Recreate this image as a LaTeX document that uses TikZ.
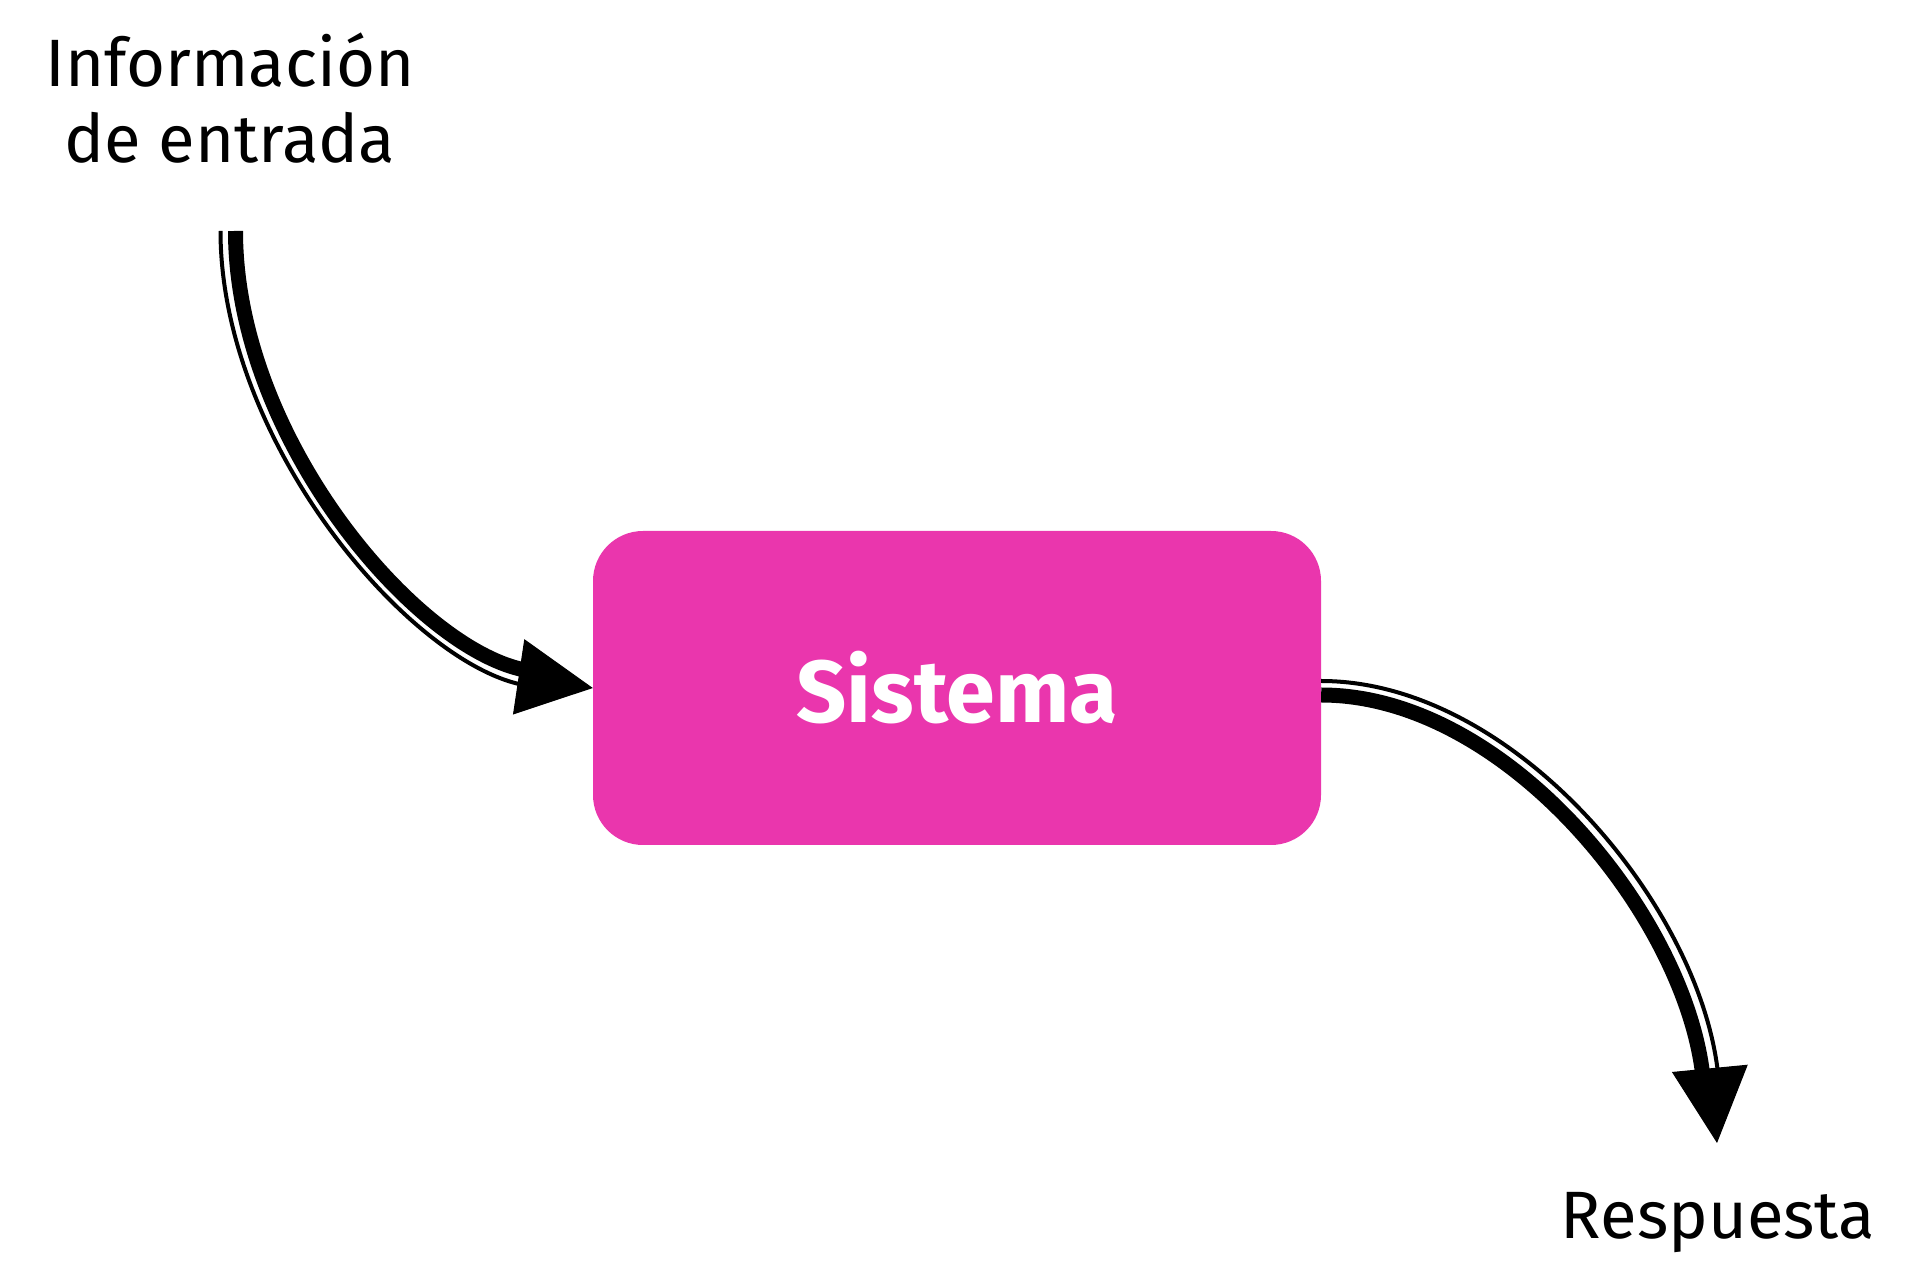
\documentclass[tikz,border=0pt]{standalone}
\usepackage{fontspec}
\setmainfont{Fira Sans}
\usetikzlibrary{arrows.meta}
\definecolor{sistemapink}{RGB}{234,54,173}

\begin{document}
\begin{tikzpicture}[x=1pt, y=1pt,
	flowlabel/.style={inner sep=0pt, font=\fontsize{67}{76}\selectfont, align=center},
	headflow/.style={white, line width=1pt, -{Triangle[length=75pt, width=76pt, black]}},
	thickflow/.style={line width=15pt, shorten >=65pt},
	thinflow/.style={line width=4pt, shorten >=65pt}]
	\useasboundingbox (0,0) rectangle (1908,1280);

	\node [fill=sistemapink, rounded corners=50pt, minimum width=728pt,
		minimum height=314pt, text=white,
		font=\fontsize{88}{100}\selectfont\bfseries] (sistema) at (957,592) {Sistema};

	\node [flowlabel, anchor=north] (info) at (230,1247) {Información\\de entrada};
	\node [flowlabel, anchor=base] (resp) at (1718,42) {Respuesta};

	\coordinate (in) at (228,1049);
	\coordinate (out) at (1717,137);

	% entrada
	\draw[headflow] (in) .. controls +(0,-210) and +(-173,26) .. (sistema.west);
	\draw[thickflow] ([xshift=7.5pt]in) .. controls +(0,-210) and +(-173,26) ..
		([shift={(1,7.5)}]sistema.west);
	\draw[thinflow] ([xshift=-7.5pt]in) .. controls +(0,-214) and +(-177,27) ..
		([shift={(-1,-7.5)}]sistema.west);

	% respuesta
	\draw[headflow] (sistema.east) .. controls +(190,0) and +(-22,229) .. (out);
	\draw[thickflow] ([yshift=-7pt]sistema.east) .. controls +(186,0) and +(-22,225) ..
		([shift={(-7.5,-1)}]out);
	\draw[thinflow] ([yshift=7pt]sistema.east) .. controls +(194,0) and +(-22,233) ..
		([shift={(7.5,1)}]out);

\end{tikzpicture}
\end{document}
